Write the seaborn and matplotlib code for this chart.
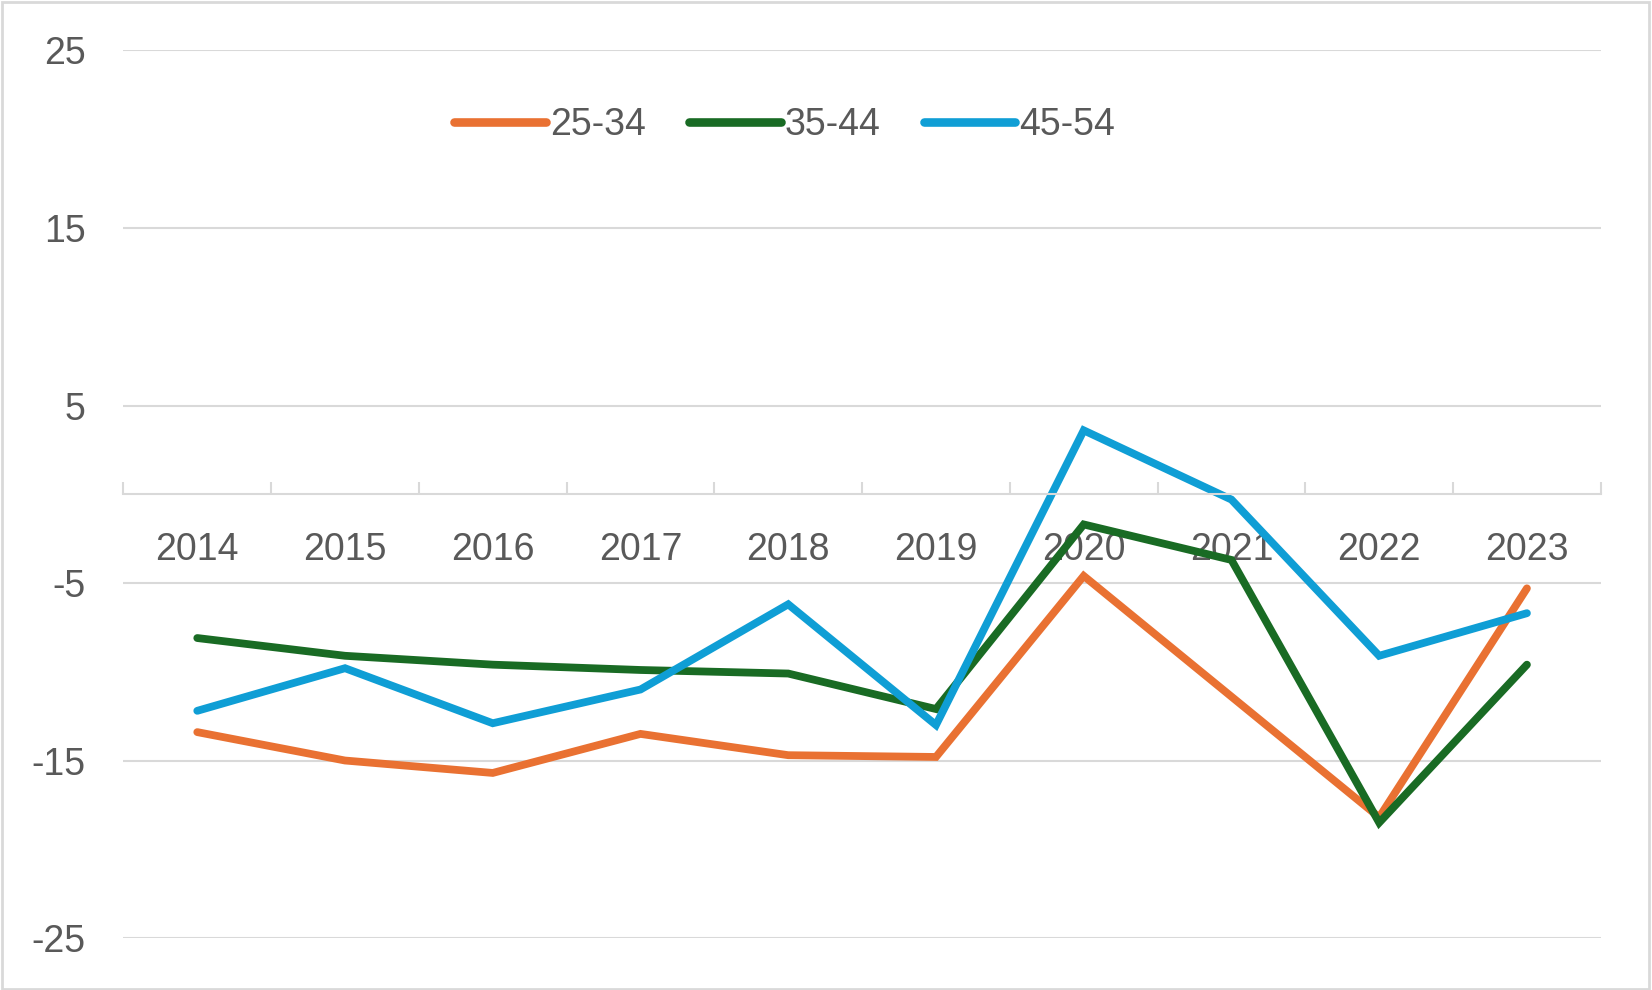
import matplotlib
matplotlib.use("Agg")
import matplotlib.pyplot as plt
import pandas as pd
import seaborn as sns
from matplotlib.patches import Rectangle

# values
years = ["2014", "2015", "2016", "2017", "2018", "2019", "2020", "2021", "2022", "2023"]
age_25_34 = [-13.4, -15.0, -15.7, -13.5, -14.7, -14.8, -4.6, -11.4, -18.2, -5.3]
age_35_44 = [-8.1, -9.1, -9.6, -9.9, -10.1, -12.1, -1.7, -3.7, -18.5, -9.6]
age_45_54 = [-12.2, -9.8, -12.9, -11.0, -6.2, -13.0, 3.6, -0.3, -9.1, -6.7]
groups = ["25-34", "35-44", "45-54"]
y_ticks = [-25, -15, -5, 5, 15, 25]

colors = {"25-34": "#E97132", "35-44": "#196B24", "45-54": "#0F9ED5"}
GRID = "#D9D9D9"
TEXT = "#595959"
FS = 27

sns.set_style("white")
plt.rcParams["font.family"] = ["Liberation Sans", "DejaVu Sans"]

rows = []
for name, vals in zip(groups, [age_25_34, age_35_44, age_45_54]):
    for i, v in enumerate(vals):
        rows.append({"pos": i, "year": years[i], "value": v, "group": name})
df = pd.DataFrame(rows)

fig = plt.figure(figsize=(16.52, 9.9), dpi=100)
ax = fig.add_axes([0.0747, 0.0525, 0.8943, 0.8965])

sns.lineplot(data=df, x="pos", y="value", hue="group", palette=colors,
             linewidth=5.6, ax=ax, legend=True)
for line in ax.get_lines():
    line.set_solid_capstyle("round")
    line.set_solid_joinstyle("miter")

ax.set_xlim(-0.5, len(years) - 0.5)
ax.set_ylim(-25, 25)
ax.set_yticks(y_ticks)
ax.set_yticklabels([str(t) for t in y_ticks])
ax.yaxis.grid(True, color=GRID, linewidth=1.5)
ax.set_axisbelow(True)

ax.set_xticks(range(len(years)))
ax.set_xticklabels(years)
ax.set_xticks([i - 0.5 for i in range(len(years) + 1)], minor=True)
ax.tick_params(axis="x", which="major", bottom=True, length=0, pad=27,
               labelsize=FS, labelcolor=TEXT)
ax.tick_params(axis="x", which="minor", bottom=True, direction="in", length=8.5,
               width=1.5, color=GRID)
ax.tick_params(axis="y", length=0, pad=27, labelsize=FS, labelcolor=TEXT)
ax.set_xlabel("")
ax.set_ylabel("")

for side in ["top", "right", "left"]:
    ax.spines[side].set_visible(False)
ax.spines["bottom"].set_position(("data", 0))
ax.spines["bottom"].set_color(GRID)
ax.spines["bottom"].set_linewidth(1.5)

handles, labels = ax.get_legend_handles_labels()
ax.get_legend().remove()
leg = fig.legend(handles, labels, loc="center", bbox_to_anchor=(0.475, 0.874), ncol=3,
                 frameon=False, fontsize=FS, handlelength=2.45, handletextpad=0.1,
                 columnspacing=1.15, labelcolor=TEXT)
for h in leg.get_lines():
    h.set_linewidth(6.2)
    h.set_solid_capstyle("round")

fig.patches.append(Rectangle((0.001, 0.001), 0.997, 0.997, transform=fig.transFigure,
                             fill=False, edgecolor=GRID, linewidth=2))

fig.savefig("out.png", dpi=100, facecolor="white")
